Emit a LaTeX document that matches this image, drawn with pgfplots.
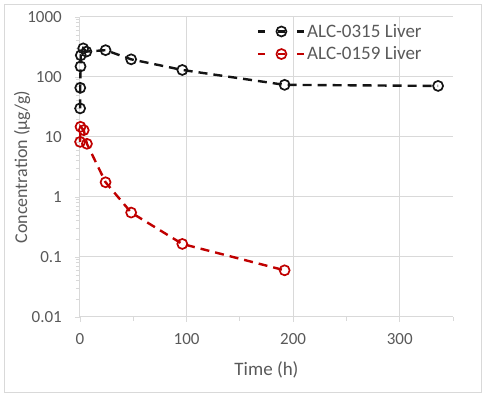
\documentclass[border=0pt]{standalone}
\usepackage{pgfplots}
\pgfplotsset{compat=1.18}
\usepackage{fontspec}
\setmainfont{Carlito}
\definecolor{txt}{RGB}{89,89,89}
\definecolor{grd}{RGB}{217,217,217}
\definecolor{red1}{RGB}{192,0,0}
\definecolor{blk}{RGB}{20,20,20}
\begin{document}
\begin{tikzpicture}
\path[use as bounding box] (0pt,0pt) rectangle (488pt,398pt);
\draw[grd, line width=1pt] (4.5pt,5.5pt) rectangle (481.5pt,393.5pt);
\coordinate (O) at (80pt,81pt);
\begin{axis}[
  at={(O)}, anchor=south west,
  scale only axis, width=373pt, height=300pt,
  xmin=0, xmax=350, ymode=log, ymin=0.01, ymax=1000,
  axis lines*=left,
  axis line style={grd, line width=1pt},
  every tick/.style={grd, line width=0.8pt},
  tick align=outside,
  major tick length=5pt, minor tick length=4pt,
  xtick={0,100,200,300}, xticklabels={0,100,200,300},
  minor xtick={50,150,250,350},
  ytick={0.01,0.1,1,10,100,1000},
  yticklabels={0.01,0.1,1,10,100,1000},
  /pgf/number format/assume math mode=true,
  grid=major,
  major grid style={grd, line width=1pt},
  minor grid style={draw=none},
  ymajorgrids=true, xmajorgrids=true,
  tick label style={font=\fontsize{17}{19}\selectfont, text=txt, inner sep=0pt},
  xticklabel style={anchor=north, yshift=-11.5pt},
  yticklabel style={anchor=east, xshift=-13pt},
  xlabel={Time (h)},
  ylabel={Concentration (µg/g)},
  xlabel style={font=\fontsize{19}{21}\selectfont, text=txt, at={(axis description cs:0.5,-0.177)}, anchor=center},
  ylabel style={font=\fontsize{18}{20}\selectfont, text=txt, at={(axis description cs:-0.155,0.5)}, anchor=center},
  legend style={at={(rel axis cs:0.465,0.99)}, anchor=north west, draw=none, fill=none,
    font=\fontsize{19}{21}\selectfont, text=txt, row sep=4pt},
  legend cell align=left,
  legend image code/.code={\draw[mark repeat=2, mark phase=2, #1, line width=2.6pt, dash pattern=on 7pt off 13pt on 7pt off 12pt on 7pt] plot coordinates {(0pt,0pt) (23.5pt,0pt) (46pt,0pt)};},
  clip=false,
]
\addplot[blk, line width=2.4pt, dash pattern=on 9pt off 6pt, mark=o, mark size=5pt, mark options={solid, line width=1.7pt}]
coordinates {(0.1,30) (0.25,66) (0.5,150) (0.75,230) (3,300) (6,265) (24,280) (48,197) (96,131) (192,74) (336,71)};
\addlegendentry{ALC-0315 Liver}
\addplot[red1, line width=2.4pt, dash pattern=on 9pt off 6pt, mark=o, mark size=5pt, mark options={solid, line width=1.7pt}]
coordinates {(0.1,8.3) (0.5,14.8) (3.5,13) (6.5,7.7) (24,1.76) (48,0.55) (96,0.165) (192,0.06)};
\addlegendentry{ALC-0159 Liver}
\end{axis}
\end{tikzpicture}
\end{document}
